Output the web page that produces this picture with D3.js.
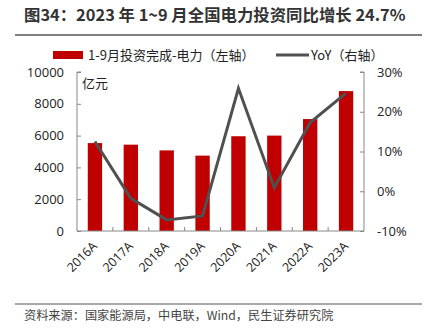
<!DOCTYPE html>
<html><head><meta charset="utf-8">
<script src="https://cdn.jsdelivr.net/npm/d3@7/dist/d3.min.js"></script>
<style>
body{margin:0;background:#fff;}
svg{display:block;font-family:"Noto Sans CJK SC","Noto Sans",sans-serif;}
</style></head>
<body>
<svg id="c" width="434" height="333"></svg>
<script>
const categories = ["2016A","2017A","2018A","2019A","2020A","2021A","2022A","2023A"];
const investment = [5530, 5430, 5070, 4740, 5960, 6000, 7040, 8800];
const yoy = [12.5, -1.8, -7.2, -6.2, 25.9, 0.9, 17.3, 24.7];
const leftTicks = [0, 2000, 4000, 6000, 8000, 10000];
const rightTicks = [-10, 0, 10, 20, 30];
const titleText = "图34：2023 年 1~9 月全国电力投资同比增长 24.7%";
const sourceText = "资料来源：国家能源局，中电联，Wind，民生证券研究院";
const legendBar = "1-9月投资完成-电力（左轴）";
const legendLine = "YoY（右轴）";
const unitText = "亿元";

const svg = d3.select("#c");
const m = {l:77, r:364, t:72, b:231};
const x = d3.scaleBand().domain(categories).range([m.l, m.r]).paddingInner(0.6).paddingOuter(0.3);
const xb = d3.scaleBand().domain(categories).range([m.l, m.r]);
const yL = d3.scaleLinear().domain([0,10000]).range([m.b, m.t]);
const yR = d3.scaleLinear().domain([-10,30]).range([m.b, m.t]);

// title
svg.append("text").attr("x",24).attr("y",21).attr("font-size",16.4).attr("font-weight","bold")
  .attr("fill","#333").text(titleText);
svg.append("line").attr("x1",15).attr("x2",422).attr("y1",35).attr("y2",35).attr("stroke","#555").attr("stroke-width",1.5);

// legend
svg.append("rect").attr("x",53).attr("y",51).attr("width",30).attr("height",8).attr("fill","#C00000");
svg.append("text").attr("x",88).attr("y",60).attr("font-size",13).attr("fill","#222").text(legendBar);
svg.append("line").attr("x1",276).attr("x2",309).attr("y1",55).attr("y2",55).attr("stroke","#505050").attr("stroke-width",3);
svg.append("text").attr("x",311).attr("y",60).attr("font-size",13).attr("fill","#222").text(legendLine);

// bars
svg.append("g").selectAll("rect").data(categories).join("rect")
  .attr("x", d=>x(d)).attr("width", x.bandwidth())
  .attr("y", (d,i)=>yL(investment[i])).attr("height",(d,i)=>yL(0)-yL(investment[i]))
  .attr("fill","#C00000");

// axes
const axisColor = "#888";
const gl = svg.append("g").attr("transform",`translate(${m.l},0)`)
  .call(d3.axisRight(yL).tickValues(leftTicks).tickSize(4).tickFormat(""));
gl.selectAll("line").attr("stroke",axisColor);
gl.select(".domain").attr("stroke",axisColor).attr("d",`M4,${m.t}H0V${m.b}`);
svg.append("g").selectAll("text").data(leftTicks).join("text")
  .attr("x",64).attr("y",d=>yL(d)+4.5).attr("text-anchor","end").attr("font-size",13)
  .attr("font-family","'Open Sans','Noto Sans',sans-serif").attr("fill","#222").text(d=>d);

const gr = svg.append("g").attr("transform",`translate(${m.r},0)`)
  .call(d3.axisLeft(yR).tickValues(rightTicks).tickSize(4).tickFormat(""));
gr.selectAll("line").attr("stroke",axisColor);
gr.select(".domain").attr("stroke",axisColor).attr("d",`M-4,${m.t}H0V${m.b}`);
svg.append("g").selectAll("text").data(rightTicks).join("text")
  .attr("x",377).attr("y",d=>yR(d)+4.5).attr("text-anchor","start").attr("font-size",13)
  .attr("font-family","'Open Sans','Noto Sans',sans-serif").attr("fill","#222").text(d=>d+"%");

// bottom axis
const bTicks = categories.slice(1).map(c=>xb(c));
const gb = svg.append("g");
gb.append("line").attr("x1",m.l).attr("x2",m.r).attr("y1",m.b).attr("y2",m.b).attr("stroke",axisColor);
gb.selectAll("line.t").data(bTicks).join("line").attr("class","t")
  .attr("x1",d=>d).attr("x2",d=>d).attr("y1",m.b).attr("y2",m.b-4).attr("stroke",axisColor);
svg.append("g").selectAll("text").data(categories).join("text")
  .attr("transform",d=>`translate(${xb(d)+xb.bandwidth()/2+3},${m.b+16}) rotate(-45)`)
  .attr("text-anchor","end").attr("font-size",12.5).attr("fill","#222")
  .attr("font-family","'Open Sans','Noto Sans',sans-serif").text(d=>d);

// unit
svg.append("text").attr("x",82).attr("y",88).attr("font-size",13).attr("fill","#222").text(unitText);

// line
const line = d3.line().x((d,i)=>xb(categories[i])+xb.bandwidth()/2).y(d=>yR(d));
svg.append("path").datum(yoy).attr("d",line).attr("fill","none").attr("stroke","#505050").attr("stroke-width",3);

// source
svg.append("line").attr("x1",15).attr("x2",422).attr("y1",304).attr("y2",304).attr("stroke","#555").attr("stroke-width",1.2);
svg.append("text").attr("x",24).attr("y",320).attr("font-size",12.2).attr("fill","#444").text(sourceText);
</script>
</body></html>
